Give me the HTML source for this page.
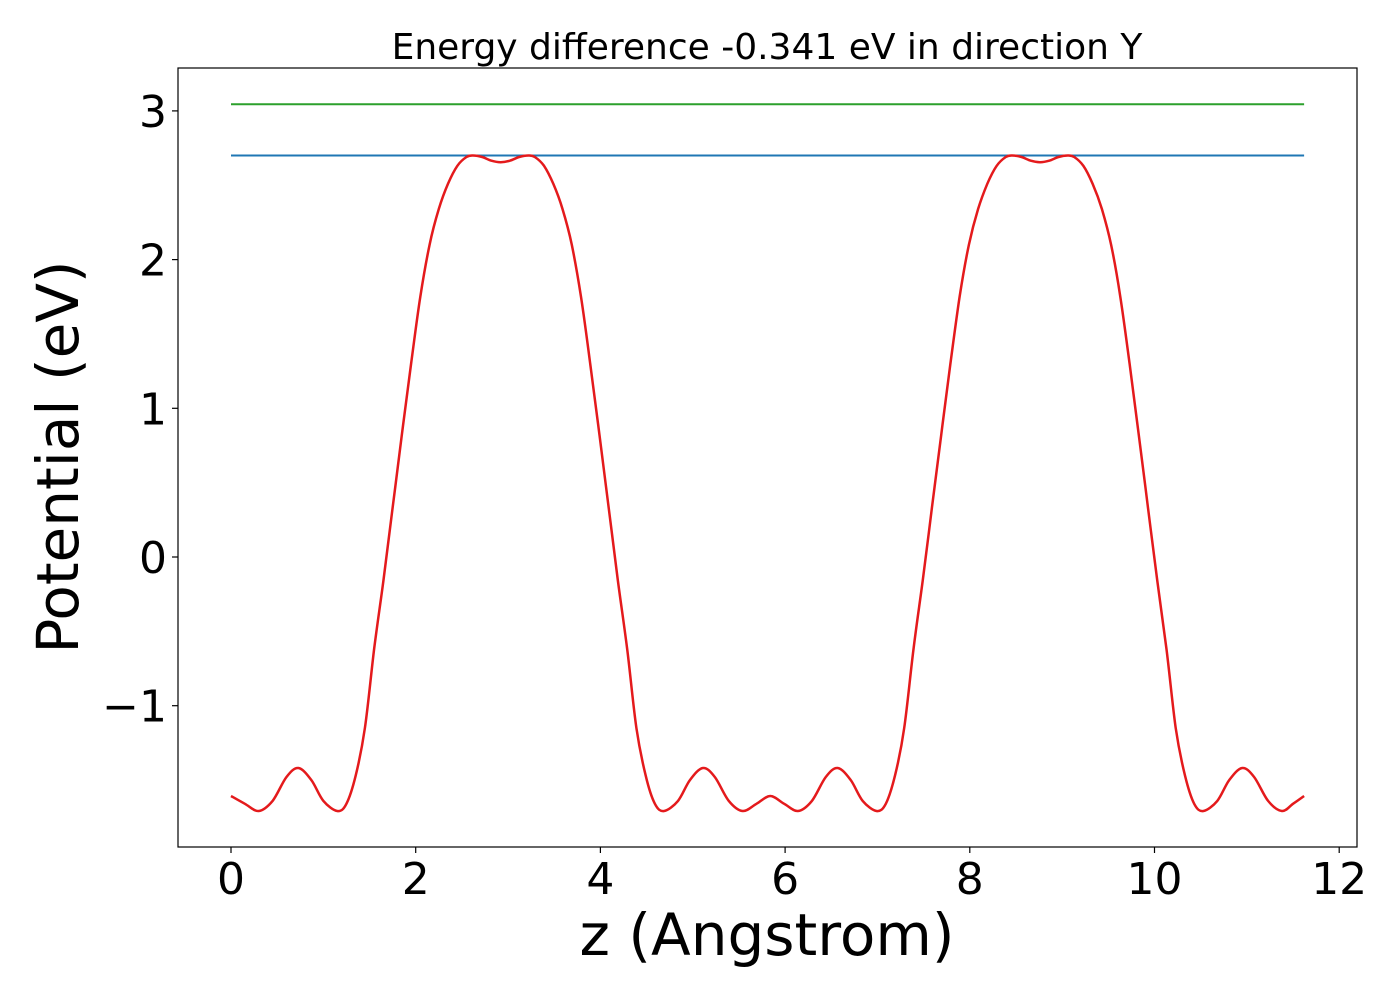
<!DOCTYPE html>
<html><head><meta charset="utf-8"><style>
html,body{margin:0;padding:0;background:#fff;}
svg{display:block;font-family:"DejaVu Sans","Liberation Sans",sans-serif;}
</style></head><body>
<svg id="chart" width="1400" height="1000" viewBox="0 0 1400 1000">
<rect width="1400" height="1000" fill="#fff"/>
<text x="767" y="59" font-size="36" text-anchor="middle" fill="#000">Energy difference -0.341 eV in direction Y</text>
<g id="plot"></g>
<g id="xticks"></g>
<g id="yticks"></g>
<rect x="178" y="68" width="1179" height="779" fill="none" stroke="#000" stroke-width="1.2"/>
<text x="767" y="955" font-size="58" text-anchor="middle" fill="#000">z (Angstrom)</text>
<text transform="translate(78,457) rotate(-90)" font-size="58" text-anchor="middle" fill="#000">Potential (eV)</text>
</svg>
<script>
const zValues = [0,0.15,0.3,0.45,0.6,0.73,0.87,1.0,1.15,1.25,1.35,1.45,1.55,1.65,1.75,1.85,1.95,2.05,2.15,2.25,2.35,2.45,2.55,2.62,2.72,2.82,2.92,3.02,3.12,3.22,3.29,3.39,3.49,3.59,3.69,3.79,3.89,3.99,4.09,4.19,4.29,4.39,4.49,4.59,4.69,4.84,4.97,5.11,5.24,5.39,5.54,5.69,
5.84,5.99,6.14,6.29,6.44,6.57,6.71,6.84,6.99,7.09,7.19,7.29,7.39,7.49,7.59,7.69,7.79,7.89,7.99,8.09,8.19,8.29,8.39,8.46,8.56,8.66,8.76,8.86,8.96,9.06,9.13,9.23,9.33,9.43,9.53,9.63,9.73,9.83,9.93,10.03,10.13,10.23,10.33,10.43,10.53,10.68,10.81,10.95,11.08,11.23,11.38,11.50,11.62];
const potentialValues = [-1.607,-1.66,-1.708,-1.64,-1.48,-1.419,-1.50,-1.64,-1.708,-1.66,-1.47,-1.15,-0.62,-0.16,0.33,0.82,1.30,1.75,2.10,2.34,2.51,2.63,2.69,2.70,2.69,2.665,2.655,2.665,2.69,2.70,2.69,2.63,2.51,2.34,2.10,1.75,1.30,0.82,0.33,-0.16,-0.62,-1.15,-1.47,-1.66,-1.708,-1.64,-1.50,-1.419,-1.48,-1.64,-1.708,-1.66,
-1.607,-1.66,-1.708,-1.64,-1.48,-1.419,-1.50,-1.64,-1.708,-1.66,-1.47,-1.15,-0.62,-0.16,0.33,0.82,1.30,1.75,2.10,2.34,2.51,2.63,2.69,2.70,2.69,2.665,2.655,2.665,2.69,2.70,2.69,2.63,2.51,2.34,2.10,1.75,1.30,0.82,0.33,-0.16,-0.62,-1.15,-1.47,-1.66,-1.708,-1.64,-1.50,-1.419,-1.48,-1.64,-1.708,-1.66,-1.607];
const blueLevel = 2.70;
const greenLevel = 3.045;
const levelRange = [0, 11.62];
const xTickValues = [0,2,4,6,8,10,12];
const yTickValues = [-1,0,1,2,3];
const yTickLabels = ["\u22121","0","1","2","3"];

const NS = "http://www.w3.org/2000/svg";
function xs(v){ return 231 + v * 92.35; }
function ys(v){ return 557 - v * 148.7; }
function mk(tag, attrs, parent){ const e=document.createElementNS(NS,tag); for(const k in attrs) e.setAttribute(k,attrs[k]); parent.appendChild(e); return e; }

const plot = document.getElementById('plot');
const g1 = mk('line',{x1:xs(levelRange[0]),x2:xs(levelRange[1]),y1:ys(greenLevel),y2:ys(greenLevel),stroke:'#2ca02c','stroke-width':2},plot);


const b1 = mk('line',{x1:xs(levelRange[0]),x2:xs(levelRange[1]),y1:ys(blueLevel),y2:ys(blueLevel),stroke:'#1f77b4','stroke-width':2},plot);


const P = zValues.map((z,i)=>[xs(z), ys(potentialValues[i])]);
let d = 'M'+P[0][0].toFixed(1)+','+P[0][1].toFixed(1);
for(let i=0;i<P.length-1;i++){
  const p0=P[Math.max(0,i-1)], p1=P[i], p2=P[i+1], p3=P[Math.min(P.length-1,i+2)];
  const c1=[p1[0]+(p2[0]-p0[0])/6, p1[1]+(p2[1]-p0[1])/6];
  const c2=[p2[0]-(p3[0]-p1[0])/6, p2[1]-(p3[1]-p1[1])/6];
  d+=' C'+c1[0].toFixed(1)+','+c1[1].toFixed(1)+' '+c2[0].toFixed(1)+','+c2[1].toFixed(1)+' '+p2[0].toFixed(1)+','+p2[1].toFixed(1);
}
const pl = mk('path',{d:d,fill:'none',stroke:'#e41a1c','stroke-width':2.5,'stroke-linejoin':'round'},plot);



const xt = document.getElementById('xticks');
xTickValues.forEach(v=>{
  const t = mk('line',{x1:xs(v),x2:xs(v),y1:847,y2:853,stroke:'#000','stroke-width':1.2},xt);
  
  
  const l = mk('text',{x:xs(v),y:894,'font-size':44,'text-anchor':'middle',fill:'#000'},xt);
  l.textContent = String(v);
  
  
});
const yt = document.getElementById('yticks');
yTickValues.forEach((v,i)=>{
  const t = mk('line',{x1:172,x2:178,y1:ys(v),y2:ys(v),stroke:'#000','stroke-width':1.2},yt);
  
  
  const l = mk('text',{x:167,y:ys(v)+16,'font-size':44,'text-anchor':'end',fill:'#000'},yt);
  l.textContent = yTickLabels[i];
  
  
});
</script>
</body></html>
